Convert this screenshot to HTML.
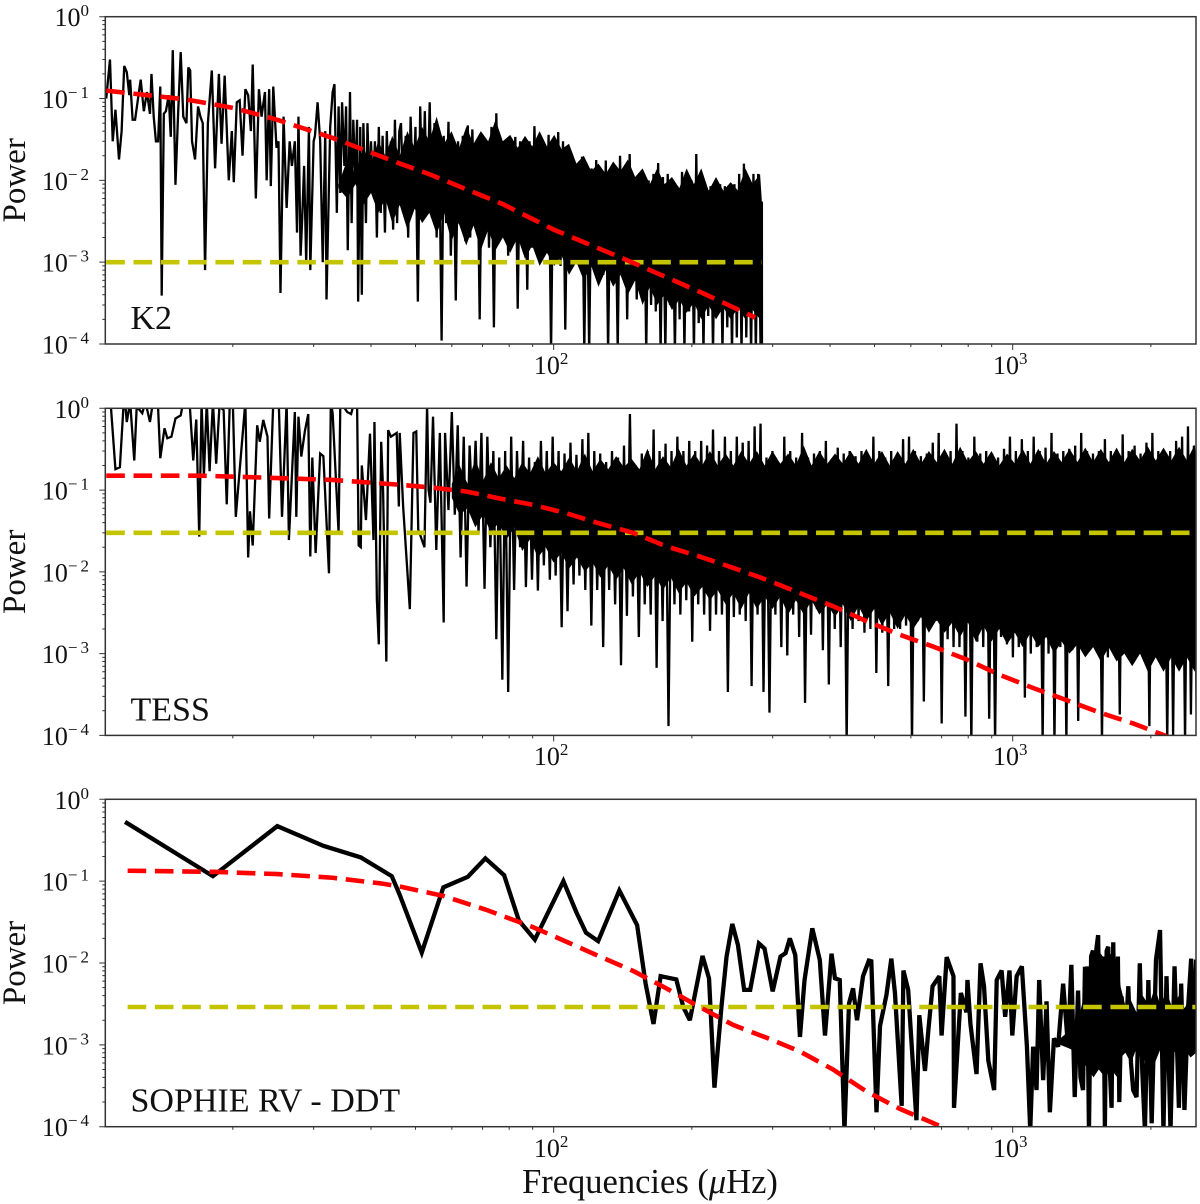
<!DOCTYPE html>
<html lang="en">
<head>
<meta charset="utf-8">
<title>Power spectra: K2, TESS, SOPHIE RV</title>
<style>
html,body{margin:0;padding:0;background:#fff;}
svg{display:block;}
text{font-family:"Liberation Serif",serif;fill:#111;}
</style>
</head>
<body>
<svg id="figure" xmlns="http://www.w3.org/2000/svg" width="1200" height="1204" viewBox="0 0 1200 1204"></svg>
<script>
/* shared axis data */
const xDomain = [10.55, 2508];
const yDomain = [1e-4, 1];
const yTickExponents = [0, -1, -2, -3, -4];
const xTickExponents = [2, 3];
const xMinorTicks = [20, 30, 40, 50, 60, 70, 80, 90, 200, 300, 400, 500, 600, 700, 800, 900, 2000];
const yMinorMultipliers = [2, 3, 4, 5, 6, 7, 8, 9];

/* K2 */
const k2SparseFreq = [
10.6,10.8,10.95,11.1,11.3,11.45,11.6,11.75,11.9,11.95,
12.1,12.25,12.4,12.6,12.8,13,13.2,13.3,13.45,13.6,
13.75,13.9,14,14.15,14.3,14.5,14.65,14.8,15,15.2,
15.4,15.6,15.85,16,16.15,16.3,16.55,16.8,17,17.2,
17.4,17.65,18,18.3,18.65,18.9,19.2,19.6,19.9,20.1,
20.4,20.7,21,21.3,21.6,21.9,22.1,22.45,22.8,23.1,
23.5,23.7,24,24.2,24.5,24.9,25.15,25.4,25.8,26.2,
26.6,26.9,27.3,27.6,27.8,28.1,28.3,28.6,28.9,29.3,
29.5,30,30.2,30.6,31,31.4,31.8,32,32.6,33,
33.3,33.7,34,34.3,34.6,35,35.3,35.6,36,36.3,
36.6,37,37.3,37.5,37.9,38.2,38.5,39,39.3,39.7,
40,40.4,40.8,41.2,41.6,42,42.4,42.9,43.3,43.8,
44.2,44.7,45.1,45.6,46.1];
const k2SparsePower = [
.1,.3,.03,.073,.018,.04,.25,.21,.11,.17,
.055,.055,.09,.17,.07,.12,.065,.2,.06,.03,
.03,.14,.00039,.065,.07,.11,.034,.39,.0088,.065,
.37,.06,.05,.24,.22,.03,.018,.08,.06,.05,
.0008,.05,.22,.014,.2,.028,.19,.01,.04,.0095,
.09,.095,.02,.13,.11,.04,.26,.006,.13,.06,
.12,.01,.13,.0085,.14,.025,.03,.00042,.06,.0046,
.03,.015,.03,.0023,.06,.0012,.003,.015,.001,.045,
.0008,.03,.035,.09,.03,.001,.04,.00035,.045,.12,
.15,.004,.08,.007,.09,.015,.08,.0014,.12,.003,
.055,.01,.055,.00033,.045,.0004,.05,.003,.05,.007,
.03,.007,.03,.002,.045,.004,.035,.0023,.04,.005,
.03,.0025,.055,.003,.04];
const k2DenseFreq = [
46.5,47.1,47.6,48.2,48.8,49.4,50,50.6,51.2,51.8,
52.4,53,53.7,54.3,55,55.6,56.3,57,57.6,58.3,
59,59.7,60.5,61.2,61.9,62.7,63.4,64.2,65,65.8,
66.5,67.3,68.2,69,69.8,70.6,71.5,72.3,73.2,74.1,
75,75.9,76.8,77.7,78.6,79.6,80.5,81.5,82.5,83.5,
84.5,85.5,86.5,87.6,88.6,89.7,90.8,91.9,93,94.1,
95.2,96.4,97.5,98.7,99.9,101.1,102.3,103.5,104.8,106,
107.3,108.6,109.9,111.2,112.5,113.9,115.3,116.6,118,119.5,
120.9,122.4,123.8,125.3,126.8,128.3,129.9,131.4,133,134.6,
136.2,137.9,139.5,141.2,142.9,144.6,146.4,148.1,149.9,151.7,
153.5,155.4,157.3,159.1,161,163,165,166.9,168.9,171,
173,175.1,177.2,179.3,181.5,183.7,185.9,188.1,190.4,192.7,
195,197.3,199.7,202.1,204.5,207,209.5,212,214.5,217.1,
219.7,222.4,225,227.7,230.5,233.2,236,238.9,241.7,244.6,
247.6,250.6,253.6,256.6,259.7,262.8,266,269.2,272.4,275.7,
279,282.3,284.2,284.3];
const k2DensePower = [
.05,.004,.035,.002,.06,.006,.045,.00033,.08,.005,
.07,.004,.09,.0035,.05,.002,.04,.00011,.035,.003,
.052,.0012,.028,.00034,.03,.004,.035,.0018,.047,.002,
.042,.003,.03,.0002,.035,.004,.03,.0015,.045,.00016,
.066,.002,.03,.003,.025,.0012,.028,.003,.034,.00027,
.03,.002,.032,.00046,.03,.0015,.046,.0025,.02,.0013,
.018,.0015,.036,.00008,.03,.0015,.039,.0009,.03,.00015,
.0235,.001,.018,.0011,.015,.0009,.0195,.00008,.016,.00008,
.014,.0009,.0177,.0008,.013,.0007,.0175,.00008,.014,.0008,
.012,.00008,.02,.0007,.012,.0002,.021,.0006,.011,.00035,
.011,.0005,.012,.00008,.01,.0003,.012,.00025,.0163,.00008,
.011,.00008,.012,.0003,.007,.00008,.0085,.0002,.0127,.00008,
.012,.00025,.01,.00008,.021,.00018,.01,.00008,.008,.00022,
.0085,.00008,.0078,.00025,.009,.00008,.0085,.00016,.0085,.00008,
.009,.00012,.012,.00008,.016,.00012,.01,.00008,.012,.00008,
.012,.00009,.0055,.0001];
const k2CoreFreq = [
34,35.5,37,38.5,40,41.5,43,44.5,46.2,48,
49.8,51.7,53.6,55.6,57.7,59.9,62.1,64.5,66.9,69.4,
72,74.7,77.5,80.4,83.5,86.6,89.8,93.2,96.7,100.3,
104.1,108,112.1,116.3,120.7,125.2,129.9,134.8,139.8,145.1,
150.5,156.2,162,168.1,174.4,181,187.8,194.8,202.1,209.7,
217.6,225.8,234.2,243,252.1,261.6,271.4,281.6,284.2];
const k2CoreUpper = [
.009,.018,.012,.025,.016,.03,.02,.035,.02,.04,
.025,.045,.03,.06,.028,.04,.024,.045,.028,.04,
.03,.055,.03,.036,.025,.035,.026,.04,.026,.036,
.024,.028,.016,.02,.013,.016,.012,.017,.013,.018,
.011,.014,.009,.014,.009,.011,.008,.014,.009,.014,
.0075,.011,.0075,.0095,.0075,.014,.009,.012,.0055];
const k2CoreLower = [
.008,.006,.009,.005,.007,.004,.006,.003,.005,.0025,
.0045,.003,.004,.0022,.004,.0018,.003,.0016,.0028,.0014,
.0025,.0014,.002,.0013,.002,.0011,.0016,.0009,.0013,.0009,
.0012,.0007,.001,.0006,.0009,.0005,.0008,.0005,.0007,.0004,
.0006,.0003,.0005,.0003,.0004,.00026,.00035,.00024,.00032,.0002,
.0003,.0002,.00028,.0002,.00028,.0002,.00026,.0002,.0002];
const k2ModelFreq = [10.6,15.9,20,25,33,45.6,53.8,77.6,100,146.7,211,275];
const k2ModelPower = [.125,.097,.077,.055,.033,.0165,.0118,.0051,.0025,.00102,.00042,.00021];
const k2NoiseFreq = [10.6,284];
const k2NoisePower = [.001,.001];

/* TESS */
const tessSparseFreq = [
10.6,10.85,11.1,11.35,11.55,11.65,11.75,11.95,12.2,12.35,
12.7,12.9,13.2,13.4,13.75,13.9,14.2,14.4,14.7,15,
15.4,15.6,16.1,16.4,16.65,16.9,17.1,17.3,17.55,17.8,
18.1,18.4,18.7,19.1,19.4,19.7,20,20.3,21.3,21.6,
21.8,22.1,22.6,22.9,23.3,23.8,24,24.5,24.9,25.2,
25.6,26.2,26.5,27.3,27.5,27.8,28.2,28.7,29.2,29.5,
29.8,30.3,31,31.5,32.4,32.7,33,34,34.3,35.5,
36.2,36.8,37.3,37.6,38,38.2,39,39.8,40.5,40.7,
41.2,41.6,42.1,42.5,43.2,43.6,44.2,45.5,46,46.2,
47,48.6,49.5,50.2,50.7,52.3,53,53.4,53.9,54.6,
55.5,56.5,57.6,58,59];
const tessSparsePower = [
1.2,1.05,.18,.19,1,1.2,.68,1.2,.23,1.05,
.87,1.2,.68,1.2,1,.245,.57,.43,.45,.75,
.82,1.2,1.2,.23,.73,.027,1.2,.15,1.2,.17,
1.2,.21,1.05,.95,.067,1.2,1.2,.047,1.2,.015,
.055,.021,.62,.39,.72,.45,.045,1.2,1.2,1.05,
.047,1.2,.0245,.9,.047,.79,.257,.52,.85,.0154,
.25,.017,.28,.26,.0096,1.2,.87,.03,1.2,.9,
.85,1.2,1.2,.021,.02,.2,.043,.49,.0245,.68,
.0045,.0013,.39,.1,.0008,.54,.45,.5,.063,.5,
.063,.0035,.5,.52,.033,.02,1.1,.1,.07,.79,
.0185,.5,.0024,.5,.057];
const tessDenseFreq = [
60,60.9,61.8,62.7,63.7,64.6,65.6,66.6,67.6,68.6,
69.6,70.7,71.7,72.8,73.9,75,76.1,77.3,78.4,79.6,
80.8,82,83.2,84.5,85.8,87,88.4,89.7,91,92.4,
93.8,95.2,96.6,98.1,99.5,101,102.5,104.1,105.6,107.2,
108.8,110.5,112.1,113.8,115.5,117.2,119,120.8,122.6,124.4,
126.3,128.2,130.1,132.1,134,136.1,138.1,140.2,142.3,144.4,
146.6,148.8,151,153.3,155.6,157.9,160.3,162.7,165.1,167.6,
170.1,172.7,175.3,177.9,180.6,183.3,186,188.8,191.7,194.5,
197.4,200.4,203.4,206.5,209.6,212.7,215.9,219.1,222.4,225.8,
229.2,232.6,236.1,239.6,243.2,246.9,250.6,254.3,258.1,262,
265.9,269.9,274,278.1,282.3,286.5,290.8,295.2,299.6,304.1,
308.7,313.3,318,322.8,327.6,332.5,337.5,342.6,347.7,352.9,
358.2,363.6,369.1,374.6,380.2,385.9,391.7,397.6,403.6,409.6,
415.8,422,428.4,434.8,441.3,447.9,454.6,461.5,468.4,475.4,
482.6,489.8,497.2,504.6,512.2,519.9,527.7,535.6,543.6,551.8,
560.1,568.5,577,585.7,594.5,603.4,612.4,621.6,630.9,640.4,
650,659.8,669.7,679.7,689.9,700.3,710.8,721.5,732.3,743.3,
754.4,765.7,777.2,788.9,800.7,812.7,824.9,837.3,849.9,862.6,
875.5,888.7,902,915.5,929.3,943.2,957.4,971.7,986.3,1001,
1016,1031,1047,1063,1079,1095,1111,1128,1145,1162,
1179,1197,1215,1233,1252,1270,1289,1309,1328,1348,
1368,1389,1410,1431,1452,1474,1496,1519,1541,1565,
1588,1612,1636,1661,1686,1711,1736,1762,1789,1816,
1843,1871,1899,1927,1956,1985,2015,2045,2076,2107,
2139,2171,2203,2236,2270,2304,2339,2374,2409,2445,
2482,2519];
const tessDensePower = [
.9,.05,.62,.015,.45,.0066,.35,.05,.4,.03,
.5,.0062,.45,.02,.3,.0015,.25,.00048,.3,.00034,
.45,.006,.3,.02,.4,.0065,.25,.008,.22,.0059,
.4,.012,.3,.008,.45,.009,.3,.0021,.28,.0033,
.38,.007,.27,.009,.42,.006,.5,.0022,.3,.006,
.28,.0012,.22,.006,.3,.004,.25,.00072,.35,.0029,
.85,.005,.2,.0016,.28,.004,.3,.003,.55,.00067,
.3,.0025,.37,.00013,.3,.004,.45,.003,.3,.0045,
.4,.0014,.3,.004,.4,.003,.35,.0019,.55,.003,
.3,.003,.45,.00034,.3,.0028,.45,.003,.38,.0025,
.4,.0004,.6,.003,.65,.00034,.25,.00019,.3,.003,
.22,.0012,.45,.00095,.3,.003,.25,.0016,.5,.00025,
.25,.0017,.28,.0035,.3,.0011,.4,.00042,.24,.002,
.33,.0012,.28,.00008,.3,.002,.26,.0025,.3,.0018,
.28,.002,.45,.00058,.3,.0018,.25,.0004,.3,.002,
.28,.002,.42,.0022,.45,.00008,.3,.0025,.26,.00026,
.28,.002,.38,.0025,.5,.00014,.28,.0015,.3,.0012,
.65,.0012,.3,.00017,.25,.00008,.45,.0014,.28,.0012,
.3,.00016,.28,.00008,.25,.0016,.32,.0013,.45,.0009,
.3,.0012,.42,.00029,.3,.001,.45,.0012,.3,.00008,
.33,.001,.5,.00008,.28,.0012,.3,.00008,.32,.0011,
.35,.00015,.5,.001,.3,.0015,.28,.0012,.3,.00008,
.42,.0009,.3,.0012,.3,.00018,.48,.0012,.3,.0011,
.35,.0012,.28,.0009,.38,.00013,.5,.0009,.3,.0008,
.28,.00008,.3,.0001,.4,.0009,.45,.00008,.6,.00018,
.35,.0001];
const tessCoreFreq = [
60,62.4,64.9,67.5,70.2,73,75.9,79,82.1,85.4,
88.8,92.4,96.1,99.9,103.9,108.1,112.4,116.9,121.6,126.4,
131.5,136.8,142.2,147.9,153.8,160,166.4,173,180,187.2,
194.7,202.5,210.6,219,227.7,236.9,246.3,256.2,266.4,277.1,
288.2,299.7,311.7,324.2,337.1,350.6,364.6,379.2,394.4,410.2,
426.6,443.6,461.4,479.8,499,519,539.8,561.4,583.8,607.2,
631.5,656.7,683,710.3,738.7,768.3,799,831,864.2,898.8,
934.7,972.1,1011,1051,1093,1137,1183,1230,1279,1330,
1384,1439,1497,1556,1619,1684,1751,1821,1894,1970,
2049,2131,2216,2304,2396,2492,2510];
const tessCoreUpper = [
.12,.2,.12,.24,.13,.22,.14,.2,.14,.22,
.16,.26,.16,.22,.17,.25,.17,.28,.17,.24,
.18,.26,.19,.24,.18,.32,.18,.26,.19,.32,
.2,.28,.2,.3,.2,.28,.2,.3,.21,.3,
.2,.3,.21,.28,.2,.35,.2,.3,.21,.28,
.21,.3,.21,.32,.21,.3,.2,.3,.21,.32,
.21,.3,.22,.32,.21,.34,.22,.3,.21,.3,
.2,.28,.21,.32,.21,.32,.21,.3,.22,.32,
.22,.33,.22,.32,.22,.33,.22,.32,.23,.34,
.23,.33,.23,.34,.23,.36,.24];
const tessCoreLower = [
.08,.05,.06,.035,.05,.03,.04,.025,.035,.018,
.025,.015,.02,.013,.017,.011,.015,.01,.013,.0085,
.012,.008,.011,.007,.01,.0065,.009,.006,.0085,.0055,
.0075,.005,.0065,.0045,.006,.004,.0055,.0035,.0055,.0035,
.005,.0035,.005,.003,.0045,.003,.0045,.003,.004,.0028,
.004,.0025,.0038,.0025,.0035,.0022,.0032,.002,.003,.002,
.0028,.0018,.0026,.0018,.0024,.0016,.0024,.0014,.0022,.0014,
.002,.0013,.0018,.0012,.0018,.0012,.0016,.001,.0014,.001,
.0013,.0009,.0012,.0008,.0012,.0008,.001,.0007,.001,.0006,
.0009,.0006,.0009,.0006,.0009,.0006,.0008];
const tessModelFreq = [10.6,17,23.6,33,45.5,54.6,64.5,76.3,90.2,106.6,126,149,176,208,246,291,344,406,480,568,671,793,937,1108,1310,1548,1830,2140,2500];
const tessModelPower = [.15,.15,.142,.133,.117,.107,.096,.079,.066,.052,.039,.03,.0205,.0154,.0112,.008,.0055,.0038,.0025,.0017,.00122,.00085,.00055,.00038,.00027,.00019,.00014,.0001,.00007];
const tessNoiseFreq = [10.6,2510];
const tessNoisePower = [.03,.03];

/* SOPHIE RV */
const sophieFreq = [
11.65,18.1,25,31.5,38,44.4,46.2,51.6,57.5,65,
71,78,84,91,105,112,117.6,125,139,152,
158.6,165,171,185,191.6,198,211,218,224,232,
238,245,252,260,268,280,288,300,312,320,
327,336,344,352,366,380,390,403,410,420,
430,440,449,458,472,486,492,505,514,531,
544,554,573,578,592,617,626,644,655,669,
692,700,718,743,745,771,793,797,809,834,
851,866,885,911,923,946,963,984,998,1020,
1047,1074,1092,1108,1127,1142,1165,1185,1205,1230,
1256,1288,1320,1342,1365,1388,1405,1423,1437,1445,
1452,1466,1482,1496,1509,1522,1535,1548,1561,1575,
1588,1602,1615,1628,1642,1656,1670,1684,1695,1707,
1727,1755,1786,1810,1830,1861,1892,1915,1941,1975,
2008,2052,2094,2130,2163,2207,2252,2302,2328,2367,
2407,2448,2469,2510];
const sophiePower = [
.53,.115,.47,.27,.195,.115,.068,.0134,.084,.113,
.19,.118,.033,.0193,.1,.042,.0235,.0185,.077,.029,
.0056,.0018,.0069,.0063,.0029,.002,.0122,.0065,.0003,.0029,
.0119,.03,.0166,.0047,.0047,.0173,.015,.0045,.012,.0132,
.02,.0125,.00125,.0062,.0265,.0109,.0013,.013,.0065,.0062,
.00009,.0032,.0049,.002,.0069,.0107,.0105,.00015,.0017,.0041,
.0113,.0043,.00018,.0081,.0047,.00012,.0023,.00048,.0015,.0052,
.0069,.0013,.0118,.0069,.00017,.0043,.0025,.0062,.0018,.00044,
.0099,.0052,.00064,.00028,.0062,.0081,.0022,.0081,.0013,.0069,
.0091,.00095,.00009,.00095,.00028,.0062,.00037,.0034,.00015,.0012,
.00095,.0056,.00095,.0095,.00023,.0046,.0004,.00028,.009,.0006,
.0091,.00009,.012,.0142,.00067,.015,.0219,.0006,.0013,.012,
.0001,.014,.0158,.0005,.00017,.0179,.0005,.0015,.012,.0002,
.0039,.0009,.0052,.0006,.00028,.00023,.0099,.0005,.00009,.0062,
.00011,.011,.0253,.00009,.0069,.00009,.0091,.00017,.0056,.00016,
.0025,.0113,.0011,.011];
const sophieCoreFreq = [
1270,1330,1390,1430,1460,1500,1540,1590,1640,1690,
1720,1760,1810,1860,1920,1980,2040,2100,2160,2230,
2300,2370,2440,2510];
const sophieCoreUpper = [
.0012,.0015,.002,.004,.008,.012,.014,.011,.013,.01,
.005,.003,.0035,.0025,.004,.003,.005,.003,.0045,.0028,
.004,.0028,.004,.003];
const sophieCoreLower = [
.001,.0009,.0008,.0006,.0005,.0004,.0005,.0004,.0005,.0004,
.0007,.0008,.0006,.0009,.0006,.0008,.0006,.0009,.0007,.0009,
.0007,.0009,.0007,.0008];
const sophieModelFreq = [11.8,18.1,25,33,42.5,46.2,57.5,71,90,106.6,126,149,176,208,246,291,344,406,480,568,700,750];
const sophieModelPower = [.134,.13,.122,.11,.093,.086,.066,.045,.0275,.0182,.012,.008,.0049,.0029,.00175,.00122,.00083,.0005,.00027,.000165,.0001,.00008];
const sophieNoiseFreq = [11.8,2510];
const sophieNoisePower = [.0029,.0029];

const NS = 'http://www.w3.org/2000/svg';
const svg = document.getElementById('figure');
const plotLeft = 105.3, plotRight = 1196;

function xScale(f) {
  const a = Math.log10(xDomain[0]), b = Math.log10(xDomain[1]);
  return plotLeft + (Math.log10(f) - a) / (b - a) * (plotRight - plotLeft);
}
function yScale(p, top, bottom) {
  const a = Math.log10(yDomain[0]), b = Math.log10(yDomain[1]);
  return bottom - (Math.log10(p) - a) / (b - a) * (bottom - top);
}
function mk(tag, props, parent) {
  const e = document.createElementNS(NS, tag);
  for (const k in props) e.setAttribute(k, props[k]);
  parent.appendChild(e);
  return e;
}
function pathFrom(fs, ps, top, bottom) {
  let d = '';
  const n = Math.min(fs.length, ps.length);
  for (let i = 0; i < n; i++) {
    d += (i ? 'L' : 'M') + xScale(fs[i]).toFixed(2) + ' ' + yScale(ps[i], top, bottom).toFixed(2);
  }
  return d;
}
function powerTick(parent, exponent, x, y, anchor) {
  const t = mk('text', {x: x, y: y, 'text-anchor': anchor, 'font-size': 26}, parent);
  const base = mk('tspan', {}, t);
  base.textContent = '10';
  const sup = mk('tspan', {'font-size': 17, dy: -10, 'letter-spacing': 3}, t);
  sup.textContent = String(exponent).replace('-', '\u2212');
  return t;
}

const panels = [
  {key:'k2', title:'K2', top:16.7, bottom:344, sw:2.3, titleY:329, labelBase:374,
   freq:k2SparseFreq.concat(k2DenseFreq), power:k2SparsePower.concat(k2DensePower),
   coreF:k2CoreFreq, coreU:k2CoreUpper, coreL:k2CoreLower,
   modelF:k2ModelFreq, modelP:k2ModelPower, noiseF:k2NoiseFreq, noiseP:k2NoisePower},
  {key:'tess', title:'TESS', top:408.3, bottom:735.4, sw:2.3, titleY:720.7, labelBase:765,
   freq:tessSparseFreq.concat(tessDenseFreq), power:tessSparsePower.concat(tessDensePower),
   coreF:tessCoreFreq, coreU:tessCoreUpper, coreL:tessCoreLower,
   modelF:tessModelFreq, modelP:tessModelPower, noiseF:tessNoiseFreq, noiseP:tessNoisePower},
  {key:'sophie', title:'SOPHIE RV - DDT', top:799.3, bottom:1126.7, sw:4.3, titleY:1111.7, labelBase:1157,
   freq:sophieFreq, power:sophiePower, coreF:sophieCoreFreq, coreU:sophieCoreUpper, coreL:sophieCoreLower,
   modelF:sophieModelFreq, modelP:sophieModelPower, noiseF:sophieNoiseFreq, noiseP:sophieNoisePower}
];

panels.forEach(function (p) {
  const g = mk('g', {}, svg);
  
  

  const clipId = 'clip-' + p.key;
  const defs = mk('defs', {}, g);
  const cp = mk('clipPath', {id: clipId}, defs);
  mk('rect', {x: plotLeft, y: p.top, width: plotRight - plotLeft, height: p.bottom - p.top}, cp);

  const plot = mk('g', {'clip-path': 'url(#' + clipId + ')'}, g);

  if (p.coreF.length) {
    const upper = pathFrom(p.coreF, p.coreU, p.top, p.bottom);
    const rf = p.coreF.slice().reverse();
    const rl = p.coreL.slice().reverse();
    const lower = pathFrom(rf, rl, p.top, p.bottom).replace('M', 'L');
    const core = mk('path', {d: upper + lower + 'Z', fill: '#000'}, plot);
    
    
  }

  const line = mk('path', {d: pathFrom(p.freq, p.power, p.top, p.bottom), fill: 'none', stroke: '#000', 'stroke-width': p.sw, 'stroke-linejoin': 'miter', 'stroke-miterlimit': 3}, plot);
  
  

  const noise = mk('path', {d: pathFrom(p.noiseF, p.noiseP, p.top, p.bottom), fill: 'none', stroke: '#c4c400', 'stroke-width': 4.6, 'stroke-dasharray': '18.6 8.7'}, plot);
  
  

  const model = mk('path', {d: pathFrom(p.modelF, p.modelP, p.top, p.bottom), fill: 'none', stroke: '#ff0000', 'stroke-width': 4.6, 'stroke-dasharray': '18.6 8.7'}, plot);
  
  

  const frame = mk('rect', {x: plotLeft, y: p.top, width: plotRight - plotLeft, height: p.bottom - p.top, fill: 'none', stroke: '#333', 'stroke-width': 1.5}, g);
  
  

  let tickD = '';
  yTickExponents.forEach(function (e) {
    const y = yScale(Math.pow(10, e), p.top, p.bottom);
    tickD += 'M' + plotLeft + ' ' + y + 'h-6';
    const lab = powerTick(g, e, 92, y + 9.5, 'end');
    
    
    if (e > yTickExponents[yTickExponents.length - 1]) {
      yMinorMultipliers.forEach(function (m) {
        const my = yScale(m * Math.pow(10, e - 1), p.top, p.bottom);
        tickD += 'M' + plotLeft + ' ' + my + 'h-3';
      });
    }
  });
  xTickExponents.forEach(function (e) {
    const x = xScale(Math.pow(10, e));
    tickD += 'M' + x + ' ' + p.bottom + 'v6';
    const lab = powerTick(g, e, x - 1, p.labelBase, 'middle');
    
    
  });
  xMinorTicks.forEach(function (f) {
    tickD += 'M' + xScale(f) + ' ' + p.bottom + 'v3';
  });
  const ticks = mk('path', {d: tickD, fill: 'none', stroke: '#333', 'stroke-width': 1}, g);
  
  

  const title = mk('text', {x: 130.5, y: p.titleY, 'font-size': 34}, g);
  title.textContent = p.title;
  
  

  const cy = (p.top + p.bottom) / 2;
  const yTitle = mk('text', {x: 0, y: 0, 'font-size': 33, 'text-anchor': 'middle', transform: 'translate(25 ' + cy + ') rotate(-90)'}, g);
  yTitle.textContent = 'Power';
  
  
});

const xTitle = mk('text', {x: 650, y: 1193, 'font-size': 34.5, 'text-anchor': 'middle'}, svg);


const xt1 = mk('tspan', {}, xTitle);
xt1.textContent = 'Frequencies (';
const xt2 = mk('tspan', {'font-style': 'italic'}, xTitle);
xt2.textContent = '\u03BC';
const xt3 = mk('tspan', {}, xTitle);
xt3.textContent = 'Hz)';
</script>
</body>
</html>
